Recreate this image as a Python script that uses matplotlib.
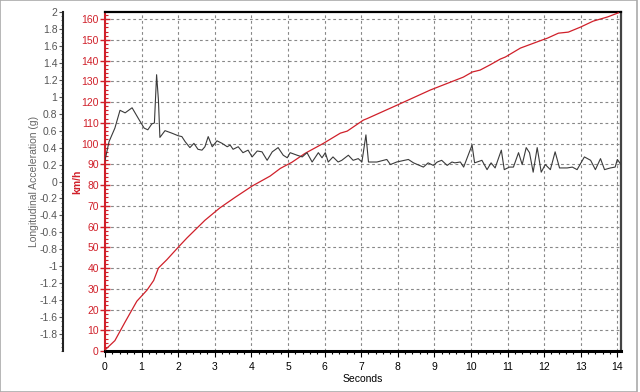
import matplotlib
matplotlib.use("Agg")
import matplotlib.pyplot as plt
from matplotlib.ticker import MultipleLocator, FixedLocator
from matplotlib.patches import Rectangle

plt.rcParams['font.family'] = ['Liberation Sans', 'DejaVu Sans']

# longitudinal acceleration trace (s, g)
acc_t = [0.0, 0.11, 0.27, 0.41, 0.55, 0.74, 0.93, 1.07, 1.17, 1.28, 1.35, 1.41, 1.46,
         1.50, 1.64, 1.83, 2.0, 2.1, 2.19, 2.32, 2.43, 2.54, 2.65, 2.73, 2.82, 2.93,
         3.06, 3.2, 3.34, 3.42, 3.5, 3.64, 3.77, 3.91, 4.02, 4.16, 4.29, 4.43, 4.57,
         4.73, 4.87, 4.98, 5.06, 5.25, 5.39, 5.52, 5.66, 5.83, 5.93, 6.02, 6.1, 6.23,
         6.37, 6.47, 6.65, 6.78, 6.92, 7.02, 7.13, 7.2, 7.43, 7.7, 7.8, 7.97, 8.29,
         8.43, 8.7, 8.83, 8.97, 9.08, 9.2, 9.35, 9.48, 9.56, 9.71, 9.8, 10.03, 10.1,
         10.3, 10.44, 10.55, 10.66, 10.83, 10.91, 11.05, 11.16, 11.3, 11.4, 11.51,
         11.6, 11.7, 11.81, 11.92, 12.03, 12.17, 12.3, 12.42, 12.63, 12.77, 12.9,
         13.1, 13.27, 13.4, 13.54, 13.65, 13.81, 13.94, 14.0, 14.1]
acc_g = [0.25, 0.47, 0.63, 0.84, 0.81, 0.87, 0.73, 0.63, 0.61, 0.68, 0.69, 1.26, 0.96,
         0.52, 0.60, 0.57, 0.54, 0.53, 0.47, 0.40, 0.45, 0.38, 0.37, 0.41, 0.53, 0.41,
         0.48, 0.45, 0.41, 0.43, 0.38, 0.41, 0.34, 0.37, 0.29, 0.36, 0.35, 0.25, 0.35,
         0.40, 0.31, 0.28, 0.34, 0.31, 0.29, 0.34, 0.23, 0.34, 0.28, 0.34, 0.23, 0.29,
         0.23, 0.25, 0.31, 0.25, 0.27, 0.23, 0.55, 0.23, 0.23, 0.26, 0.20, 0.23, 0.26,
         0.22, 0.17, 0.22, 0.19, 0.23, 0.25, 0.19, 0.23, 0.22, 0.23, 0.17, 0.43, 0.22,
         0.25, 0.14, 0.22, 0.16, 0.37, 0.14, 0.17, 0.17, 0.34, 0.20, 0.40,
         0.34, 0.11, 0.40, 0.11, 0.20, 0.14, 0.35, 0.16, 0.16, 0.17, 0.14,
         0.29, 0.25, 0.14, 0.27, 0.14, 0.16, 0.17, 0.26, 0.20]

# vehicle speed trace (s, km/h)
spd_t = [0, 0.27, 0.55, 0.87, 1.15, 1.33, 1.46, 1.69, 2.0, 2.24, 2.73, 3.14, 3.55,
         4.02, 4.51, 4.79, 5.11, 5.47, 5.96, 6.43, 6.62, 7.06, 7.16, 7.98, 8.89,
         9.79, 10.04, 10.25, 10.53, 10.8, 10.94, 11.35, 11.87, 12.09, 12.39, 12.66,
         12.99, 13.34, 13.73, 14.03]
spd_v = [0.5, 5, 14, 24, 29.4, 34, 40, 44, 50, 54.5, 63, 69, 74,
         79.5, 84.3, 88, 91, 95.3, 100, 105, 106, 111.3, 112, 118.5, 125.8,
         132, 134.5, 135.4, 138, 140.7, 141.7, 146, 149.4, 150.8, 153.2, 153.7,
         156.1, 159, 161, 163]

red = '#d0202a'
W, H = 640, 392
fig = plt.figure(figsize=(6.4, 3.92), dpi=100)
ax = fig.add_axes([105 / W, (H - 351) / H, (621 - 105) / W, (351 - 12) / H])

ax.set_xlim(0, 14.1)
ax.set_ylim(0, 163.4)
ax.xaxis.set_major_locator(MultipleLocator(1))
ax.xaxis.set_minor_locator(MultipleLocator(0.2))
ax.yaxis.set_major_locator(MultipleLocator(10))
ax.yaxis.set_minor_locator(MultipleLocator(2))
ax.grid(True, which='major', color='#888888', linestyle=(0, (2.5, 2.5)), linewidth=0.8)
ax.set_axisbelow(True)

ax.spines['left'].set_color(red)
ax.spines['left'].set_linewidth(1.5)
ax.spines['bottom'].set_linewidth(2.2)
ax.spines['top'].set_linewidth(1.6)
ax.spines['right'].set_color('#444444')
ax.spines['right'].set_linewidth(1.6)
ax.tick_params(axis='y', which='major', colors=red, direction='inout', length=7,
               width=1, labelsize=7.5, pad=1)
ax.tick_params(axis='y', which='minor', colors=red, direction='in', length=2.5, width=0.8)
ax.tick_params(axis='x', which='major', direction='out', length=4, labelsize=7.5, pad=4)
ax.tick_params(axis='x', which='minor', direction='out', length=2, width=0.8)
ax.set_xlabel('Seconds', fontsize=7.5, labelpad=1)
ax.set_ylabel('km/h', color=red, fontsize=7.5, fontweight='bold', labelpad=-1)

ax.plot(spd_t, spd_v, color=red, linewidth=0.9, zorder=3)

ax2 = ax.twinx()
ax2.set_ylim(-2, 2)
ax2.yaxis.set_ticks_position('left')
ax2.yaxis.set_label_position('left')
ax2.spines['left'].set_position(('axes', (63 - 105) / 516))
ax2.spines['left'].set_visible(True)
ax2.spines['left'].set_linewidth(1.5)
ax2.spines['left'].set_color('#222222')
for s in ['right', 'top', 'bottom']:
    ax2.spines[s].set_visible(False)
ax2.yaxis.set_major_locator(FixedLocator([round(-1.8 + 0.2 * i, 1) for i in range(20)]))
ax2.yaxis.set_minor_locator(MultipleLocator(0.05))
ax2.tick_params(axis='y', which='major', colors='#555555', direction='out', length=3,
                labelsize=7.5, pad=1)
ax2.tick_params(axis='y', which='minor', colors='#555555', direction='out', length=1.5)
ax2.yaxis.set_major_formatter(plt.FuncFormatter(lambda v, p: f'{v:g}'))
ax2.set_ylabel('Longitudinal Acceleration (g)', color='#666666', fontsize=7.5, labelpad=0)

ax2.plot(acc_t, acc_g, color='#3a3a3a', linewidth=0.8, zorder=3)

# outer frame of the screenshot
fig.patches.append(Rectangle((0, 0.5 / H), 637 / W, 1 - 0.5 / H, transform=fig.transFigure,
                             fill=False, edgecolor='#aaaaaa', linewidth=1.2))

fig.savefig('out.png', dpi=100)
